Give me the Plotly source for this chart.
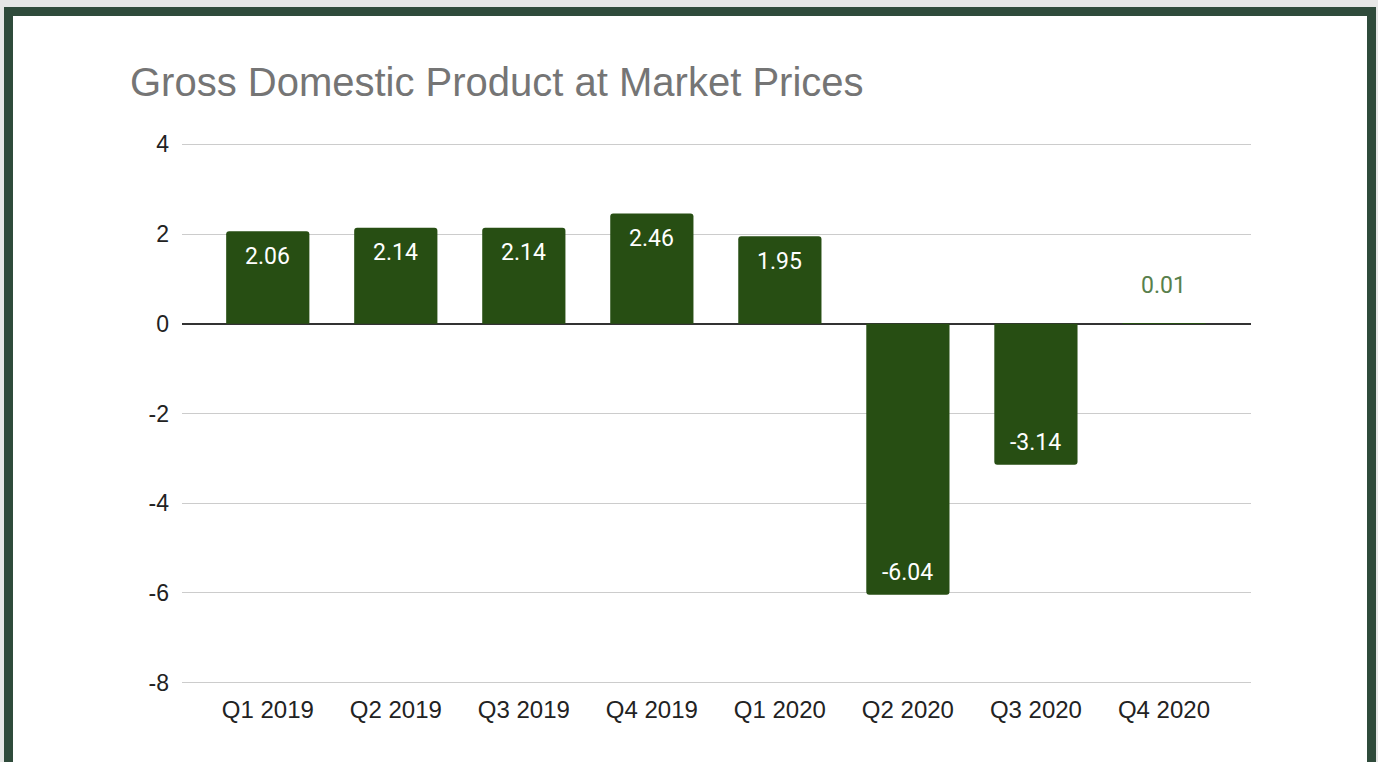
import plotly.graph_objects as go

# Quarterly GDP growth at market prices (%)
quarters = ["Q1 2019", "Q2 2019", "Q3 2019", "Q4 2019",
            "Q1 2020", "Q2 2020", "Q3 2020", "Q4 2020"]
gdp_growth = [2.06, 2.14, 2.14, 2.46, 1.95, -6.04, -3.14, 0.01]
y_ticks = [-8, -6, -4, -2, 0, 2, 4]
y_tick_text = ["-8", "-6", "-4", "-2", "0", "2", "4"]

W, H = 1378, 762
L, R, T, B = 182, 127, 143, 78
PW, PH = W - L - R, H - T - B

BAR = "#274e13"
FRAME = "#2f4b3b"


def px_x(x):
    return (x - L) / PW


def px_y(y):
    return (H - B - y) / PH


fig = go.Figure(
    go.Bar(
        x=quarters,
        y=gdp_growth,
        marker=dict(color=BAR, line=dict(width=0)),
        hoverinfo="x+y",
    )
)

# value labels: inside near the bar end, or just above the axis for tiny bars
for q, v in zip(quarters, gdp_growth):
    if abs(v) < 0.5:
        shift, color = 38, "#58804c"
    elif v > 0:
        shift, color = -25, "#ffffff"
    else:
        shift, color = 22, "#ffffff"
    fig.add_annotation(
        x=q, y=v, text=f"{v:.2f}", showarrow=False, yshift=shift,
        font=dict(family="Roboto", size=23, color=color),
    )

# framed card behind the chart
fig.add_shape(type="rect", xref="paper", yref="paper", layer="below",
              x0=px_x(4), x1=px_x(1376), y0=px_y(800), y1=px_y(7),
              fillcolor=FRAME, line=dict(width=0))
fig.add_shape(type="rect", xref="paper", yref="paper", layer="below",
              x0=px_x(13), x1=px_x(1367), y0=px_y(800), y1=px_y(16),
              fillcolor="#ffffff", line=dict(width=0))

fig.update_layout(
    width=W, height=H,
    margin=dict(l=L, r=R, t=T, b=B),
    paper_bgcolor="#e6e7e6",
    plot_bgcolor="rgba(0,0,0,0)",
    bargap=0.35,
    barcornerradius=3,
    showlegend=False,
    title=dict(
        text="Gross Domestic Product at Market Prices",
        x=130 / W, xref="container", xanchor="left",
        y=1 - 82 / H, yref="container", yanchor="middle",
        font=dict(family="Liberation Sans", size=40, color="#757575"),
    ),
    font=dict(family="Liberation Sans", color="#222222"),
)

fig.update_xaxes(
    type="category",
    range=[-0.67, 7.68],
    showgrid=False,
    showline=False,
    ticks="",
    ticklabelstandoff=9,
    tickfont=dict(family="Liberation Sans", size=24, color="#222222"),
)
fig.update_yaxes(
    range=[-8.03, 4.03],
    tickvals=y_ticks,
    ticktext=y_tick_text,
    showgrid=True,
    gridcolor="#cccccc",
    gridwidth=1,
    zeroline=True,
    zerolinecolor="#333333",
    zerolinewidth=1.5,
    showline=False,
    ticks="",
    ticklabelstandoff=12,
    tickfont=dict(family="Liberation Sans", size=23, color="#222222"),
)

fig.write_html("out.html")
